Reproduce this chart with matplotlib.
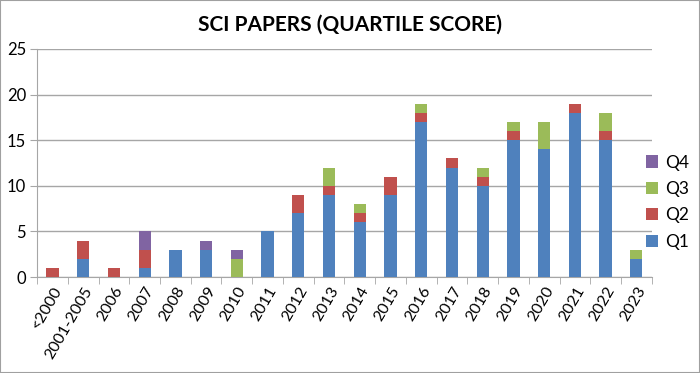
import matplotlib
matplotlib.use("Agg")
import matplotlib.pyplot as plt
import numpy as np
from matplotlib.patches import Rectangle

categories = ["<2000", "2001-2005", "2006", "2007", "2008", "2009", "2010", "2011", "2012",
              "2013", "2014", "2015", "2016", "2017", "2018", "2019", "2020", "2021", "2022", "2023"]
q1 = [0, 2, 0, 1, 3, 3, 0, 5, 7, 9, 6, 9, 17, 12, 10, 15, 14, 18, 15, 2]
q2 = [1, 2, 1, 2, 0, 0, 0, 0, 2, 1, 1, 2, 1, 1, 1, 1, 0, 1, 1, 0]
q3 = [0, 0, 0, 0, 0, 0, 2, 0, 0, 2, 1, 0, 1, 0, 1, 1, 3, 0, 2, 1]
q4 = [0, 0, 0, 2, 0, 1, 1, 0, 0, 0, 0, 0, 0, 0, 0, 0, 0, 0, 0, 0]
series = [("Q1", q1, "#4F81BD"), ("Q2", q2, "#C0504D"), ("Q3", q3, "#9BBB59"), ("Q4", q4, "#8064A2")]
yticks = [0, 5, 10, 15, 20, 25]

plt.rcParams['font.family'] = ['Lato', 'DejaVu Sans']
fig = plt.figure(figsize=(7, 3.73), dpi=100)
fig.patches.append(Rectangle((0, 0), 1, 1, transform=fig.transFigure, fill=False,
                             edgecolor="#A0A0A0", linewidth=1.5))
ax = fig.add_axes([0.053, 0.257, 0.878, 0.612])
x = np.arange(len(categories))
bottom = np.zeros(len(categories))
handles = []
for name, vals, col in series:
    v = np.array(vals, dtype=float)
    h = ax.bar(x, v, 0.4, bottom=bottom, color=col, label=name, zorder=3)
    handles.append(h)
    bottom += v

ax.set_xlim(-0.5, len(categories) - 0.5)
ax.set_ylim(0, 25)
ax.set_yticks(yticks)
ax.yaxis.grid(True, color="#A6A6A6", linewidth=1, zorder=0)
for s in ["top", "right"]:
    ax.spines[s].set_visible(False)
for s in ["left", "bottom"]:
    ax.spines[s].set_color("#A6A6A6")
ax.tick_params(axis="y", length=5, color="#A6A6A6", labelsize=12, pad=3)
ax.set_xticks(x)
ax.set_xticklabels(categories, rotation=60, ha="right", rotation_mode="anchor", fontsize=11.5)
ax.tick_params(axis="x", length=0, pad=5)
ax.set_xticks(np.arange(-0.5, len(categories), 1), minor=True)
ax.tick_params(axis="x", which="minor", length=5, color="#A6A6A6")

fig.text(0.5, 0.935, "SCI PAPERS (QUARTILE SCORE)", ha="center", va="center",
         fontsize=15, fontweight="bold")
leg = fig.legend(handles[::-1], [s[0] for s in series][::-1], loc="center left",
                 bbox_to_anchor=(0.923, 0.458), frameon=False, fontsize=12.5,
                 handlelength=0.7, handleheight=0.7, labelspacing=0.6, handletextpad=0.4,
                 borderaxespad=0, borderpad=0)
fig.savefig("out.png", dpi=100)
